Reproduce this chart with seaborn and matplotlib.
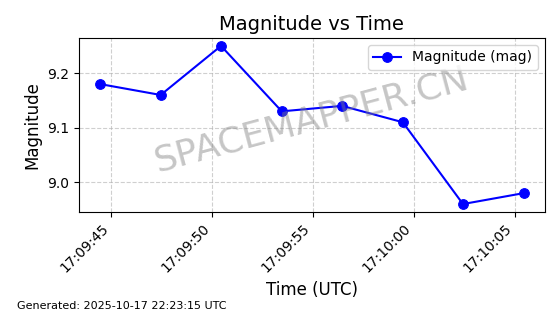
import matplotlib
matplotlib.use("Agg")
import matplotlib.pyplot as plt
import matplotlib.dates as mdates
import seaborn as sns
import pandas as pd

times = ["2025-10-17 17:09:44.46", "2025-10-17 17:09:47.46", "2025-10-17 17:09:50.45",
         "2025-10-17 17:09:53.46", "2025-10-17 17:09:56.45", "2025-10-17 17:09:59.46",
         "2025-10-17 17:10:02.44", "2025-10-17 17:10:05.45"]
magnitudes = [9.18, 9.16, 9.25, 9.13, 9.14, 9.11, 8.96, 8.98]

df = pd.DataFrame({"time": pd.to_datetime(times), "mag": magnitudes})

plt.rcParams['font.family'] = ['DejaVu Sans']

fig, ax = plt.subplots(figsize=(5.6, 3.14), dpi=100)
sns.lineplot(data=df, x="time", y="mag", ax=ax, color="blue", marker="o",
             markersize=7, markeredgecolor="blue", linewidth=1.5, label="Magnitude (mag)")

ax.set_title("Magnitude vs Time", fontsize=14)
ax.set_xlabel("Time (UTC)", fontsize=12)
ax.set_ylabel("Magnitude", fontsize=12)
ax.xaxis.set_major_locator(mdates.SecondLocator(interval=5))
ax.xaxis.set_major_formatter(mdates.DateFormatter("%H:%M:%S"))
plt.setp(ax.get_xticklabels(), rotation=45, ha="right")
ax.grid(True, linestyle="--", alpha=0.6)
ax.legend(loc="upper right", fontsize=10)

ax.text(0.5, 0.53, "SPACEMAPPER.CN", transform=ax.transAxes, fontsize=26,
        color="gray", alpha=0.45, rotation=15, ha="center", va="center")

fig.text(0.03, 0.015, "Generated: 2025-10-17 22:23:15 UTC", fontsize=8)

fig.subplots_adjust(left=0.141, right=0.973, top=0.879, bottom=0.325)
fig.savefig("out.png", dpi=100)
